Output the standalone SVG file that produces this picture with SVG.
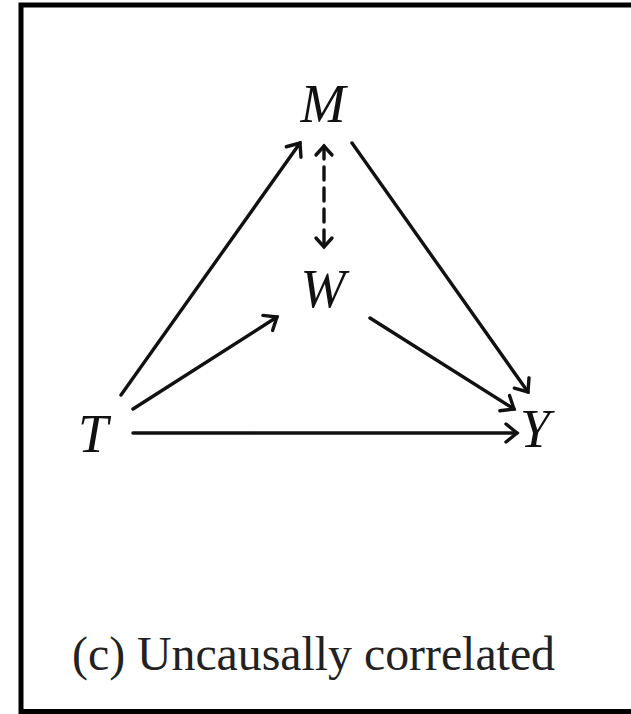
<svg xmlns="http://www.w3.org/2000/svg" width="631" height="714" viewBox="0 0 631 714">
<style>
.lbl{font-family:"Liberation Serif","Times New Roman",serif;font-style:italic;font-size:54px;fill:#111;text-anchor:middle}
.cap{font-family:"Liberation Serif","Times New Roman",serif;font-size:48px;fill:#222}
.e{stroke:#111;stroke-width:3.4;fill:none;stroke-linecap:round}
</style>
<defs>
<marker id="ah" markerUnits="userSpaceOnUse" markerWidth="30" markerHeight="30" viewBox="-15 -15 30 30" orient="auto" refX="0" refY="0">
<path d="M-11,-9 L0,0 L-11,9" fill="none" stroke="#111" stroke-width="3.4" stroke-linecap="round" stroke-linejoin="miter"/>
</marker>
<marker id="ahs" markerUnits="userSpaceOnUse" markerWidth="30" markerHeight="30" viewBox="-15 -15 30 30" orient="auto-start-reverse" refX="0" refY="0">
<path d="M-9,-8 L0,0 L-9,8" fill="none" stroke="#111" stroke-width="3.4" stroke-linecap="round"/>
</marker>
</defs>
<rect x="21" y="5" width="640" height="706.5" fill="#fff" stroke="#000" stroke-width="5"/>
<g id="connectors">
<line class="e" x1="121" y1="395" x2="300" y2="143" marker-end="url(#ah)"/>
<line class="e" x1="133" y1="409" x2="277" y2="317" marker-end="url(#ah)"/>
<line class="e" x1="133" y1="433" x2="517" y2="433" marker-end="url(#ah)"/>
<line class="e" x1="352" y1="143" x2="528" y2="392" marker-end="url(#ah)"/>
<line class="e" x1="370" y1="318" x2="514" y2="409" marker-end="url(#ah)"/>
<line class="e" x1="324" y1="146" x2="324" y2="247" stroke-dasharray="13 8" stroke-linecap="butt" marker-start="url(#ahs)" marker-end="url(#ahs)"/>
</g>
<g id="node-M"><text class="lbl" x="323" y="122">M</text></g>
<g id="node-W"><text class="lbl" x="323" y="307">W</text></g>
<g id="node-T"><text class="lbl" x="93" y="452">T</text></g>
<g id="node-Y"><text class="lbl" x="535" y="447">Y</text></g>
<text class="cap" x="72" y="670" textLength="483" lengthAdjust="spacingAndGlyphs">(c)  Uncausally correlated</text>
</svg>
